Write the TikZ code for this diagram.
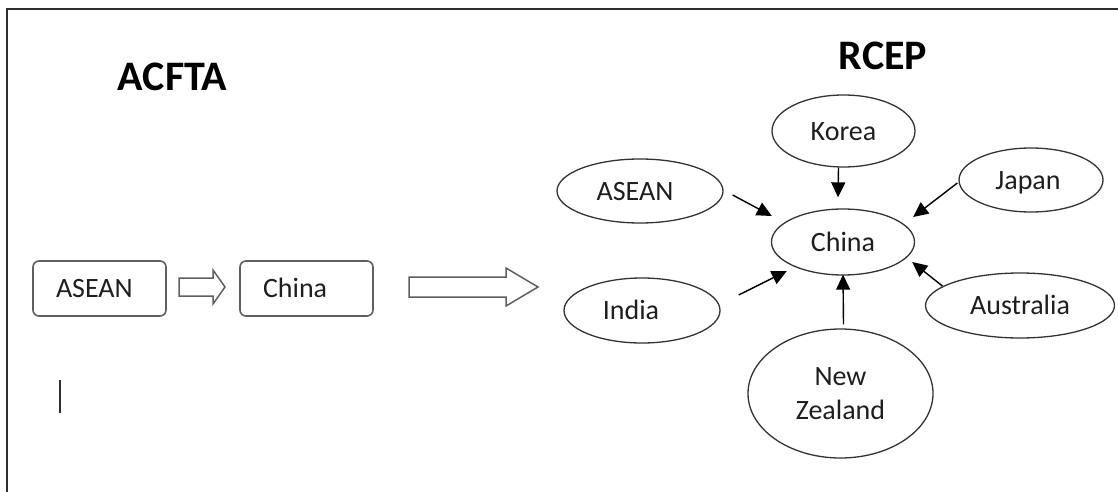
\documentclass[tikz,border=0pt]{standalone}
\usepackage{fontspec}
\setmainfont{Carlito}
\usetikzlibrary{shapes.geometric,arrows.meta,calc}
\definecolor{frm}{HTML}{2E2E2E}
\definecolor{boxc}{HTML}{5F5F5F}
\definecolor{ell}{HTML}{333333}
\definecolor{txt}{HTML}{1E1E1E}
\tikzset{
  titletext/.style={font=\fontsize{42}{46}\selectfont\bfseries, text=black, inner sep=0pt},
  boxnode/.style={draw=boxc, line width=1.6pt, rounded corners=6pt, minimum height=55pt,
    text width=87pt, inner xsep=23pt, inner ysep=0pt, align=left,
    font=\fontsize{28}{34}\selectfont, text=txt, text height=18pt, text depth=0pt},
  ellnode/.style={ellipse, draw=ell, line width=1.3pt, inner sep=0pt,
    font=\fontsize{28}{34}\selectfont, text=txt},
  onel/.style={text height=18pt, text depth=0pt},
  blockarrow/.style={draw=boxc, line width=1.5pt, fill=white, line join=miter},
  arr/.style={line width=1.4pt, draw=black, -{Triangle[length=15pt,width=14pt]}},
  frame/.style={draw=frm, line width=2pt}
}
\begin{document}
\begin{tikzpicture}[x=1pt,y=-1pt]
\useasboundingbox (0,0) rectangle (1118,492);
\draw[frame] (7,492) -- (7,9) -- (1118,9);

% titles
\node[titletext] (acfta) at (172.5,77) {ACFTA};
\node[titletext] (rcep) at (883,56) {RCEP};

% ACFTA part
\node[boxnode] (aseanL) at (99.5,288.5) {ASEAN};
\node[boxnode] (chinaL) at (306.5,288.5) {China};
\draw[blockarrow] (179,278) -- (213,278) -- (213,270) -- (225,287) -- (213,304) -- (213,296) -- (179,296) -- cycle;
\draw[blockarrow] (409,277) -- (506,277) -- (506,268) -- (538,287) -- (506,306) -- (506,297) -- (409,297) -- cycle;
\draw[line width=1.2pt, frm] (60,380) -- (60,413);

% RCEP part
\node[ellnode, onel, minimum width=143pt, minimum height=72pt] (korea) at (843.5,131) {Korea};
\node[ellnode, onel, minimum width=166pt, minimum height=64pt] (aseanR) at (640,191) {ASEAN\hspace*{10pt}};
\node[ellnode, onel, minimum width=144pt, minimum height=64pt] (japan) at (1031,180) {Japan\hspace*{6pt}};
\node[ellnode, onel, minimum width=143pt, minimum height=66pt] (china) at (843,242) {China};
\node[ellnode, onel, minimum width=156pt, minimum height=65pt] (india) at (642,310.5) {India\hspace*{22pt}};
\node[ellnode, onel, minimum width=189pt, minimum height=65pt] (aus) at (1020,305.5) {Australia};
\node[ellnode, align=center, minimum width=185pt, minimum height=129pt] (nz) at (840.5,393.5) {New\\Zealand};

% connectors
\draw[arr] ($(korea.south)+(-5,0)$) -- ($(china.north)+(-5,-11)$);
\draw[arr] ($(aseanR.east)+(9,4)$) -- ($(china.west)+(1,-26)$);
\draw[arr] ($(japan.west)+(-1,3)$) -- ($(china.east)+(-2,-25)$);
\draw[arr] ($(india.east)+(18,-15.5)$) -- ($(china.west)+(16,29)$);
\draw[arr] ($(nz.north)+(3,-4)$) -- ($(china.south)+(0,-1)$);
\draw[arr] ($(aus.west)+(17.5,-19.5)$) -- ($(china.east)+(-3,20)$);
\end{tikzpicture}
\end{document}
